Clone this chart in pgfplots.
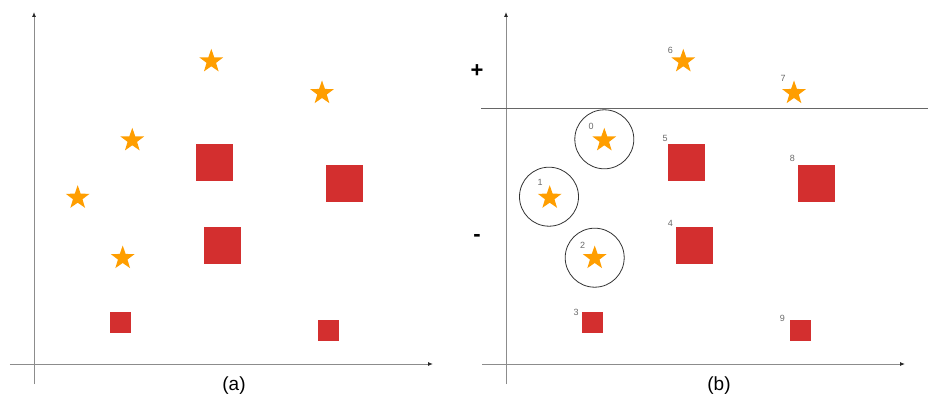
\documentclass[border=0pt]{standalone}
\usepackage{fontspec}
\setmainfont{Liberation Sans}
\usepackage{pgfplots}
\usepackage{pgfplotstable}
\pgfplotsset{compat=1.18}
\usetikzlibrary{arrows.meta}

\definecolor{starorange}{RGB}{255,158,0}
\definecolor{sqred}{RGB}{211,47,47}
\definecolor{lblgray}{RGB}{105,105,105}

% filled five-pointed star
\pgfdeclareplotmark{fstar}{%
  \pgfpathmoveto{\pgfpointpolar{90}{\pgfplotmarksize}}%
  \pgfpathlineto{\pgfpointpolar{126}{0.40\pgfplotmarksize}}%
  \pgfpathlineto{\pgfpointpolar{162}{\pgfplotmarksize}}%
  \pgfpathlineto{\pgfpointpolar{198}{0.40\pgfplotmarksize}}%
  \pgfpathlineto{\pgfpointpolar{234}{\pgfplotmarksize}}%
  \pgfpathlineto{\pgfpointpolar{270}{0.40\pgfplotmarksize}}%
  \pgfpathlineto{\pgfpointpolar{306}{\pgfplotmarksize}}%
  \pgfpathlineto{\pgfpointpolar{342}{0.40\pgfplotmarksize}}%
  \pgfpathlineto{\pgfpointpolar{18}{\pgfplotmarksize}}%
  \pgfpathlineto{\pgfpointpolar{54}{0.40\pgfplotmarksize}}%
  \pgfpathclose
  \pgfusepathqfill
}

\pgfplotstableread{
x     y     lbl dx    dy
177.3 302.7 6   -13   10.6
288.0 271.0 7   -11   14.7
98.3  223.7 0   -13.3 13.7
43.7  166.3 1   -9.7  15
88.7  106.0 2   -12   12.3
}\stars
\pgfplotstableread{
x     y     lbl dx    dy
180.2 202.0 5   -21.2 23.7
310.2 180.7 8   -23.9 24.6
187.8 119.2 4   -23.5 21.5
}\bigsq
\pgfplotstableread{
x     y     lbl dx    dy
86.0  41.5  3   -16   10.2
293.8 34.2  9   -17.5 11.5
}\smallsq
\pgfplotstableread{
x    y
98.3 224.7
43.0 167.3
88.7 106.3
}\ring

\pgfplotsset{
  panel/.style={
    width=423pt, height=372pt, scale only axis,
    anchor=south west,
    xmin=-24, xmax=399, ymin=-20, ymax=352,
    axis lines=middle,
    xtick=\empty, ytick=\empty,
    axis line style={draw=black!45, line width=0.9pt,
      -{Latex[length=5pt,width=4pt,color=black!85]}},
    clip=false,
  },
  lbls/.style={
    nodes near coords,
    point meta=explicit symbolic,
    visualization depends on={\thisrow{dx}\as\ldx},
    visualization depends on={\thisrow{dy}\as\ldy},
    every node near coord/.append style={anchor=center, inner sep=0pt,
      xshift=\ldx pt, yshift=\ldy pt, text=lblgray,
      font=\fontsize{9}{9}\selectfont},
  },
}

\begin{document}
\begin{tikzpicture}
\path[use as bounding box] (0,0) rectangle (928pt,397pt);

% (a)
\begin{axis}[panel, at={(10pt,13pt)}]
  \addplot[only marks, mark=fstar, mark size=12.5pt, starorange] table[x=x,y=y] {\stars};
  \addplot[only marks, mark=square*, mark size=18pt, sqred] table[x=x,y=y] {\bigsq};
  \addplot[only marks, mark=square*, mark size=10pt, sqred] table[x=x,y=y] {\smallsq};
  \node[font=\fontsize{19}{19}\selectfont] at (axis cs:200,-22) {(a)};
\end{axis}

% (b)
\begin{axis}[panel, at={(482pt,13pt)}]
  \addplot[draw=black!60, line width=1.2pt] coordinates {(-25,255.3) (422,255.3)};
  \addplot[only marks, mark=fstar, mark size=12.5pt, starorange, lbls] table[x=x,y=y,meta=lbl] {\stars};
  \addplot[only marks, mark=square*, mark size=18pt, sqred, lbls] table[x=x,y=y,meta=lbl] {\bigsq};
  \addplot[only marks, mark=square*, mark size=10pt, sqred, lbls] table[x=x,y=y,meta=lbl] {\smallsq};
  \addplot[only marks, mark=o, mark size=29.5pt, mark options={draw=black!80, line width=0.8pt}] table[x=x,y=y] {\ring};
  \node[font=\bfseries\fontsize{22}{22}\selectfont] at (axis cs:-29,293) {+};
  \node[font=\bfseries\fontsize{22}{22}\selectfont] at (axis cs:-29,126) {-};
  \node[font=\fontsize{19}{19}\selectfont] at (axis cs:213,-22) {(b)};
\end{axis}
\end{tikzpicture}
\end{document}
